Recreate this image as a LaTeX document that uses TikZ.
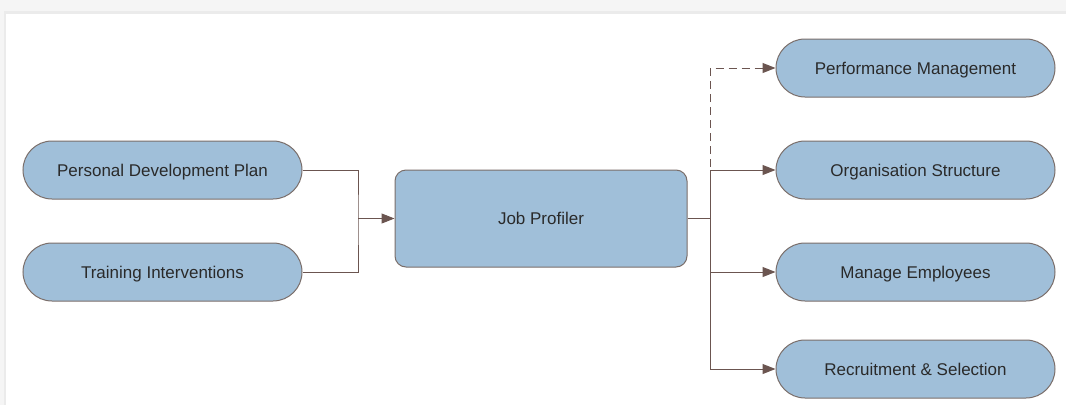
\documentclass[tikz,border=0pt]{standalone}
\usepackage{fontspec}
\setmainfont{Liberation Sans}
\usetikzlibrary{arrows.meta}
\definecolor{boxfill}{HTML}{A0BFD9}
\definecolor{boxline}{HTML}{7A6E6A}
\definecolor{conn}{HTML}{6B5550}
\definecolor{txt}{HTML}{2A2A2A}
\tikzset{
  pill/.style={draw=boxline, line width=1pt, fill=boxfill, rounded corners=29pt,
    minimum width=279pt, minimum height=58pt, inner sep=0pt, text=txt,
    text height=12pt, text depth=0pt, font=\fontsize{17}{20}\selectfont},
  bigbox/.style={draw=boxline, line width=1pt, fill=boxfill, rounded corners=11pt,
    minimum width=292pt, minimum height=97pt, inner sep=0pt, text=txt,
    text height=12pt, text depth=0pt, font=\fontsize{17}{20}\selectfont},
  link/.style={draw=conn, line width=1pt, -{Triangle[length=13pt,width=10pt]}},
  plain/.style={draw=conn, line width=1pt},
}
\begin{document}
\begin{tikzpicture}[x=1pt,y=-1pt]
\useasboundingbox (0,0) rectangle (1066,405);
\fill[white] (0,0) rectangle (1066,405);
\fill[black!4] (0,0) rectangle (1066,12);
\fill[black!8] (0,11) rectangle (1066,13.5);
\fill[black!4] (0,0) rectangle (4,405);
\fill[black!8] (3.5,12) rectangle (5.5,405);
\node[pill] (pdp) at (162.5,170) {Personal Development Plan};
\node[pill] (ti) at (162.5,272) {Training Interventions};
\node[bigbox] (jp) at (541,218.5) {Job Profiler};
\node[pill] (pm) at (915.5,68) {Performance Management};
\node[pill] (os) at (915.5,170) {Organisation Structure};
\node[pill] (me) at (915.5,272) {Manage Employees};
\node[pill] (rs) at (915.5,369) {Recruitment \& Selection};
\coordinate (lj) at (358,218.5);
\coordinate (rj) at (710,218.5);
\coordinate (rjt) at (710,170);
\coordinate (rjm) at (710,272);
\draw[plain] (pdp.east) -| (lj) |- (ti.east);
\draw[link] (lj) -- (jp.west);
\draw[plain] (jp.east) -- (rj);
\draw[link, dash pattern=on 8pt off 5pt] (rj) |- (pm.west);
\draw[link] (rjt) -- (os.west);
\draw[link] (rjm) -- (me.west);
\draw[link] (rjt) |- (rs.west);
\end{tikzpicture}
\end{document}
